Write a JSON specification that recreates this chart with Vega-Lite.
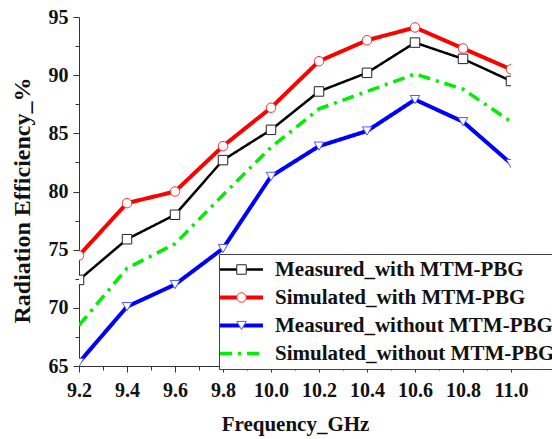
{
  "$schema": "https://vega.github.io/schema/vega-lite/v6.json",
  "width": 432,
  "height": 349,
  "autosize": {"type": "none"},
  "padding": {"left": 79, "top": 17, "right": 41, "bottom": 73},
  "background": "white",
  "config": {
    "font": "'Liberation Serif', 'DejaVu Serif', serif",
    "view": {"stroke": null},
    "axis": {
      "domainColor": "#333333",
      "tickColor": "#333333",
      "labelColor": "#111111",
      "titleColor": "#111111",
      "labelFont": "'Liberation Serif', 'DejaVu Serif', serif",
      "titleFont": "'Liberation Serif', 'DejaVu Serif', serif",
      "labelFontWeight": "bold",
      "titleFontWeight": "bold",
      "labelFontSize": 20,
      "labelOverlap": false,
      "labelBound": false,
      "labelFlush": false,
      "grid": false
    }
  },
  "data": {
    "values": [
      {"series": "Measured_with MTM-PBG", "freq": 9.2, "eff": 72.4},
      {"series": "Measured_with MTM-PBG", "freq": 9.4, "eff": 75.9},
      {"series": "Measured_with MTM-PBG", "freq": 9.6, "eff": 78.0},
      {"series": "Measured_with MTM-PBG", "freq": 9.8, "eff": 82.7},
      {"series": "Measured_with MTM-PBG", "freq": 10.0, "eff": 85.3},
      {"series": "Measured_with MTM-PBG", "freq": 10.2, "eff": 88.6},
      {"series": "Measured_with MTM-PBG", "freq": 10.4, "eff": 90.2},
      {"series": "Measured_with MTM-PBG", "freq": 10.6, "eff": 92.8},
      {"series": "Measured_with MTM-PBG", "freq": 10.8, "eff": 91.4},
      {"series": "Measured_with MTM-PBG", "freq": 11.0, "eff": 89.5},
      {"series": "Simulated_with MTM-PBG", "freq": 9.2, "eff": 74.5},
      {"series": "Simulated_with MTM-PBG", "freq": 9.4, "eff": 79.0},
      {"series": "Simulated_with MTM-PBG", "freq": 9.6, "eff": 80.0},
      {"series": "Simulated_with MTM-PBG", "freq": 9.8, "eff": 83.9},
      {"series": "Simulated_with MTM-PBG", "freq": 10.0, "eff": 87.2},
      {"series": "Simulated_with MTM-PBG", "freq": 10.2, "eff": 91.2},
      {"series": "Simulated_with MTM-PBG", "freq": 10.4, "eff": 93.0},
      {"series": "Simulated_with MTM-PBG", "freq": 10.6, "eff": 94.1},
      {"series": "Simulated_with MTM-PBG", "freq": 10.8, "eff": 92.3},
      {"series": "Simulated_with MTM-PBG", "freq": 11.0, "eff": 90.5},
      {"series": "Measured_without MTM-PBG", "freq": 9.2, "eff": 65.3},
      {"series": "Measured_without MTM-PBG", "freq": 9.4, "eff": 70.1},
      {"series": "Measured_without MTM-PBG", "freq": 9.6, "eff": 72.0},
      {"series": "Measured_without MTM-PBG", "freq": 9.8, "eff": 75.1},
      {"series": "Measured_without MTM-PBG", "freq": 10.0, "eff": 81.3},
      {"series": "Measured_without MTM-PBG", "freq": 10.2, "eff": 83.9},
      {"series": "Measured_without MTM-PBG", "freq": 10.4, "eff": 85.2},
      {"series": "Measured_without MTM-PBG", "freq": 10.6, "eff": 87.9},
      {"series": "Measured_without MTM-PBG", "freq": 10.8, "eff": 86.0},
      {"series": "Measured_without MTM-PBG", "freq": 11.0, "eff": 82.4},
      {"series": "Simulated_without MTM-PBG", "freq": 9.2, "eff": 68.5},
      {"series": "Simulated_without MTM-PBG", "freq": 9.4, "eff": 73.4},
      {"series": "Simulated_without MTM-PBG", "freq": 9.6, "eff": 75.5},
      {"series": "Simulated_without MTM-PBG", "freq": 9.8, "eff": 79.7},
      {"series": "Simulated_without MTM-PBG", "freq": 10.0, "eff": 83.8},
      {"series": "Simulated_without MTM-PBG", "freq": 10.2, "eff": 87.1},
      {"series": "Simulated_without MTM-PBG", "freq": 10.4, "eff": 88.6},
      {"series": "Simulated_without MTM-PBG", "freq": 10.6, "eff": 90.1},
      {"series": "Simulated_without MTM-PBG", "freq": 10.8, "eff": 88.8},
      {"series": "Simulated_without MTM-PBG", "freq": 11.0, "eff": 86.0}
    ]
  },
  "layer": [
    {
      "mark": {"type": "line", "clip": true},
      "encoding": {
        "x": {
          "field": "freq", "type": "quantitative",
          "scale": {"domain": [9.2, 11.0], "nice": false, "zero": false},
          "axis": {
            "orient": "bottom",
            "values": [9.2, 9.4, 9.6, 9.8, 10.0, 10.2, 10.4, 10.6, 10.8, 11.0],
            "format": ".1f",
            "tickSize": 6,
            "labelPadding": 8,
            "title": "Frequency_GHz",
            "titleFontSize": 21,
            "titleBaseline": "alphabetic",
            "titleY": 64
          }
        },
        "y": {
          "field": "eff", "type": "quantitative",
          "scale": {"domain": [65, 95], "nice": false, "zero": false},
          "axis": {
            "orient": "left",
            "values": [65, 70, 75, 80, 85, 90, 95],
            "tickSize": 6,
            "labelPadding": 5,
            "title": "Radiation Efficiency_%",
            "titleFontSize": 24,
            "titleBaseline": "middle",
            "titleAlign": "center",
            "titleX": -57,
            "titleY": 183
          }
        },
        "color": {
          "field": "series", "type": "nominal",
          "scale": {
            "domain": ["Measured_with MTM-PBG", "Simulated_with MTM-PBG", "Measured_without MTM-PBG", "Simulated_without MTM-PBG"],
            "range": ["#000000", "#FF0000", "#0000FF", "#00EE00"]
          },
          "legend": {
            "orient": "none",
            "legendX": 140,
            "legendY": 237,
            "title": null,
            "padding": 5,
            "rowPadding": 6,
            "strokeColor": "#444444",
            "fillColor": "white",
            "symbolType": "M-4.3,0H4.3",
            "symbolSize": 100,
            "symbolOffset": 7,
            "labelOffset": 23,
            "labelFont": "'Liberation Serif', 'DejaVu Serif', serif",
            "labelFontWeight": "bold",
            "labelFontSize": 21,
            "labelColor": "#111111",
            "labelLimit": 400,
            "zindex": 1
          }
        },
        "strokeDash": {
          "field": "series", "type": "nominal",
          "scale": {
            "domain": ["Measured_with MTM-PBG", "Simulated_with MTM-PBG", "Measured_without MTM-PBG", "Simulated_without MTM-PBG"],
            "range": [[1, 0], [1, 0], [1, 0], [12, 6, 3, 6]]
          }
        },
        "strokeWidth": {
          "field": "series", "type": "nominal",
          "scale": {
            "type": "ordinal",
            "domain": ["Measured_with MTM-PBG", "Simulated_with MTM-PBG", "Measured_without MTM-PBG", "Simulated_without MTM-PBG"],
            "range": [2.5, 4, 4, 3.5]
          }
        }
      }
    },
    {
      "transform": [{"filter": {"field": "series", "oneOf": ["Measured_with MTM-PBG", "Simulated_with MTM-PBG", "Measured_without MTM-PBG"]}}],
      "mark": {"type": "point", "clip": true, "filled": false, "fill": "white", "size": 90, "strokeWidth": 1, "opacity": 1},
      "encoding": {
        "x": {
          "field": "freq", "type": "quantitative",
          "axis": {
            "orient": "bottom",
            "values": [9.3, 9.5, 9.7, 9.9, 10.1, 10.3, 10.5, 10.7, 10.9],
            "labels": false, "domain": false, "ticks": true, "tickSize": 4, "title": null
          }
        },
        "y": {
          "field": "eff", "type": "quantitative",
          "axis": {
            "orient": "left",
            "values": [67.5, 72.5, 77.5, 82.5, 87.5, 92.5],
            "labels": false, "domain": false, "ticks": true, "tickSize": 4, "title": null
          }
        },
        "shape": {
          "field": "series", "type": "nominal",
          "scale": {
            "domain": ["Measured_with MTM-PBG", "Simulated_with MTM-PBG", "Measured_without MTM-PBG"],
            "range": ["square", "circle", "triangle-down"]
          },
          "legend": {
            "orient": "none",
            "legendX": 140,
            "legendY": 237,
            "title": null,
            "padding": 5,
            "rowPadding": 6,
            "symbolSize": 90,
            "symbolOffset": 7,
            "symbolFillColor": "white",
            "symbolStrokeWidth": 1,
            "labelOffset": 23,
            "labelFont": "'Liberation Serif', 'DejaVu Serif', serif",
            "labelFontWeight": "bold",
            "labelFontSize": 21,
            "labelOpacity": 0,
            "labelLimit": 400,
            "zindex": 2
          }
        },
        "stroke": {
          "field": "series", "type": "nominal",
          "scale": {
            "domain": ["Measured_with MTM-PBG", "Simulated_with MTM-PBG", "Measured_without MTM-PBG"],
            "range": ["#222222", "#FF3333", "#5555FF"]
          }
        }
      }
    }
  ],
  "resolve": {"axis": {"x": "independent", "y": "independent"}}
}
